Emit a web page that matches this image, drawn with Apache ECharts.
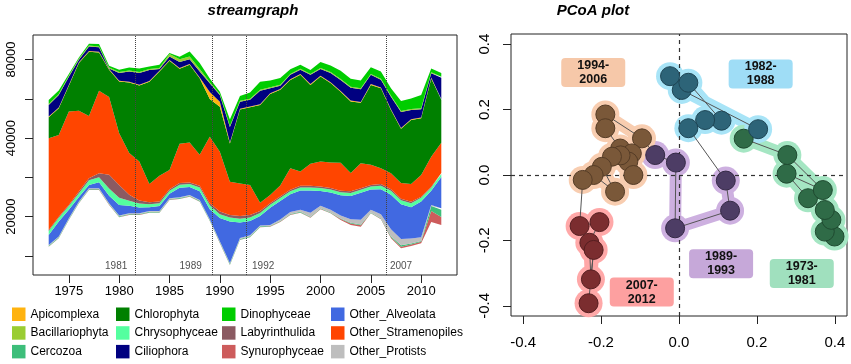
<!DOCTYPE html>
<html lang="en">
<head>
    <meta charset="UTF-8" />
    <title>streamgraph / PCoA plot</title>
    <script src="https://cdn.jsdelivr.net/npm/echarts@6/dist/echarts.min.js"></script>
</head>
<body style="margin: 0; background: #fff">
    <div id="chart" style="width: 851px; height: 364px"></div>
    <script>
        // ---- streamgraph data (1973-2012) ----
        var years = [1973, 1974, 1975, 1976, 1977, 1978, 1979, 1980, 1981, 1982,
            1983, 1984, 1985, 1986, 1987, 1988, 1989, 1990, 1991, 1992,
            1993, 1994, 1995, 1996, 1997, 1998, 1999, 2000, 2001, 2002,
            2003, 2004, 2005, 2006, 2007, 2008, 2009, 2010, 2011, 2012]

        // offset under the stream (not drawn)
        var baseline = [4700, 9000, 18300, 26800, 33600, 33600, 26000, 19700, 20900, 20900,
            22000, 22000, 28500, 29000, 30200, 27600, 17800, 6500, -4600, 8100,
            9500, 14600, 14900, 17300, 20900, 22000, 19500, 23800, 21700, 18300,
            15800, 14900, 21700, 18700, 9000, 3900, 5100, 6500, 17300, 15800]

        var synurophyceae = [200, 200, 200, 200, 200, 200, 200, 200, 200, 200,
            200, 200, 200, 200, 200, 200, 200, 200, 200, 200,
            200, 200, 200, 200, 200, 200, 200, 200, 200, 500,
            800, 800, 200, 200, 500, 800, 800, 800, 5600, 4100]
        var cercozoa = [300, 300, 300, 300, 300, 300, 300, 300, 300, 300,
            300, 300, 300, 300, 300, 300, 300, 400, 400, 400,
            400, 300, 300, 300, 300, 300, 300, 300, 300, 300,
            300, 300, 300, 300, 500, 800, 500, 300, 2500, 3600]
        var otherProtists = [400, 400, 400, 400, 400, 400, 400, 400, 400, 400,
            400, 400, 400, 400, 400, 400, 400, 400, 400, 400,
            400, 400, 400, 800, 1000, 1000, 2000, 1300, 1300, 1500,
            1800, 2500, 1300, 2000, 3600, 3100, 2500, 2000, 500, 800]
        var otherAlveolata = [5100, 7600, 4300, 2300, 1600, 3100, 3800, 5400, 3800, 2900,
            1900, 2500, 2300, 4900, 4000, 4400, 5100, 11800, 21200, 7900,
            7300, 4900, 8800, 9400, 9000, 9900, 11400, 7500, 8800, 10300,
            11900, 13700, 10400, 12800, 17600, 17800, 15900, 18100, 7300, 15900]
        var chrysophyceae = [2000, 2000, 2000, 2000, 2500, 2500, 3600, 3600, 2500, 2000,
            1500, 1500, 1500, 1500, 1500, 2000, 2000, 2000, 2000, 2000,
            1800, 1500, 1500, 1500, 1500, 1500, 1500, 1500, 1500, 1500,
            1500, 1500, 1500, 1800, 2000, 2000, 2000, 2000, 1500, 1500]
        var labyrinthulida = [500, 500, 500, 800, 1000, 2000, 7100, 6600, 3100, 1500,
            1000, 800, 800, 800, 800, 800, 1000, 1300, 1300, 1300,
            1300, 1000, 800, 800, 800, 800, 800, 800, 800, 800,
            800, 800, 800, 800, 800, 800, 800, 500, 500, 500]
        var otherStramenopiles = [46700, 41600, 47500, 41100, 31700, 42000, 39500, 26300, 21200, 19900,
            9300, 13100, 9800, 20000, 20400, 15800, 33900, 30500, 16900, 16600,
            15300, 4200, 4200, 5600, 11000, 7300, 11200, 12700, 13000, 14300,
            9400, 12700, 10200, 8100, 8100, 7900, 9000, 11000, 15300, 15400]
        var chlorophyta = [10700, 13600, 13100, 24300, 32700, 19500, 13900, 26300, 35900, 38700,
            52100, 53100, 55600, 38200, 39500, 39000, 19200, 22900, 19500, 37700,
            39500, 49700, 51400, 48700, 44900, 49200, 40200, 43300, 40400, 36100,
            36400, 30800, 40700, 40700, 32200, 27700, 32600, 28900, 39900, 21900]
        var apicomplexa = [400, 400, 400, 400, 400, 400, 400, 400, 400, 400,
            400, 400, 400, 400, 400, 400, 3600, 2500, 500, 400,
            400, 400, 400, 400, 400, 400, 400, 400, 400, 400,
            400, 400, 400, 400, 400, 400, 400, 400, 400, 400]
        var ciliophora = [5900, 6400, 4200, 1300, 2200, 2200, 300, 3900, 5200, 6000,
            5600, 900, 1700, 3100, 2500, 3000, 4400, 3400, 7900, 3500,
            3400, 6900, 2500, 1700, 2200, 2200, 4700, 3400, 4700, 5600,
            6500, 6500, 4700, 3900, 6400, 8100, 4700, 4200, 2200, 10800]
        var bacillariophyta = [500, 500, 500, 500, 500, 500, 500, 500, 500, 500,
            500, 500, 1300, 1300, 1300, 1300, 500, 500, 500, 500,
            500, 500, 500, 500, 500, 500, 500, 500, 500, 500,
            500, 500, 500, 500, 500, 500, 500, 500, 500, 500]
        var dinophyceae = [2000, 1700, 1000, 700, 900, 1200, 800, 1200, 1500, 1700,
            1200, 1700, 500, 1300, 2600, 3000, 2000, 1200, 3300, 2400,
            3200, 4100, 3400, 3400, 2400, 2000, 2000, 3100, 3400, 4200,
            4100, 3900, 3400, 3700, 3800, 5100, 5400, 6800, 2000, 1900]

        var xTicks = [1975, 1980, 1985, 1990, 1995, 2000, 2005, 2010]
        var yTickValues = [0, 20000, 40000, 60000, 80000, 100000]
        var yTickLabels = ['', '20000', '', '40000', '', '80000']

        var eventYears = [1981.6, 1989.2, 1992.6, 2006.5]
        var eventLabels = ['1981', '1989', '1992', '2007']

        // ---- PCoA data ----
        var periods = ['1973-1981', '1982-1988', '1989-1993', '1994-2006', '2007-2012']
        var pcoa1973 = [[0.399, -0.188], [0.374, -0.173], [0.391, -0.137], [0.374, -0.107], [0.331, -0.071],
            [0.276, 0.004], [0.369, -0.046], [0.278, 0.061], [0.166, 0.111]]
        var pcoa1982 = [[0.203, 0.140], [0.007, 0.260], [-0.023, 0.302], [0.024, 0.282], [0.109, 0.166],
            [0.067, 0.168], [0.024, 0.143]]
        var pcoa1989 = [[0.120, -0.017], [0.131, -0.109], [-0.010, -0.163], [-0.008, 0.038], [-0.061, 0.061]]
        var pcoa1994 = [[-0.095, 0.112], [-0.189, 0.185], [-0.189, 0.143], [-0.151, 0.081], [-0.121, 0.066],
            [-0.130, 0.041], [-0.117, 0.000], [-0.150, 0.060], [-0.172, 0.056], [-0.198, 0.025],
            [-0.164, -0.051], [-0.219, 0.000], [-0.247, -0.015]]
        var pcoa2007 = [[-0.255, -0.156], [-0.204, -0.144], [-0.230, -0.207], [-0.226, -0.319], [-0.219, -0.229],
            [-0.232, -0.392]]
        var periodLabelPos = [[0.315, -0.301], [0.2095, 0.309], [0.108, -0.271], [-0.220, 0.313], [-0.0955, -0.358]]
        var pcoaTicks = [-0.4, -0.2, 0, 0.2, 0.4]

        var font = 'Liberation Sans'

        // stream layers, bottom to top
        var layers = [
            ['Synurophyceae', synurophyceae, '#CD5C5C'],
            ['Cercozoa', cercozoa, '#3DBE7A'],
            ['Other_Protists', otherProtists, '#BEBEBE'],
            ['Other_Alveolata', otherAlveolata, '#4169E1'],
            ['Chrysophyceae', chrysophyceae, '#54FF9F'],
            ['Labyrinthulida', labyrinthulida, '#8B5A62'],
            ['Other_Stramenopiles', otherStramenopiles, '#FF4500'],
            ['Chlorophyta', chlorophyta, '#008000'],
            ['Apicomplexa', apicomplexa, '#FFB30F'],
            ['Ciliophora', ciliophora, '#000080'],
            ['Bacillariophyta', bacillariophyta, '#9ACD32'],
            ['Dinophyceae', dinophyceae, '#00CD00']
        ]

        // stream is drawn on a hidden category axis spanning 1973..2012
        function streamSeries(name, values, color, opacity) {
            return {
                type: 'line', name: name, stack: 'stream', stackStrategy: 'all',
                xAxisIndex: 2, yAxisIndex: 2, data: values,
                symbol: 'none', color: color, silent: true,
                lineStyle: { width: 0 },
                areaStyle: { color: color, opacity: opacity },
                emphasis: { disabled: true }
            }
        }

        var series = [streamSeries('baseline', baseline, '#fff', 0)]
        layers.forEach(function (l) { series.push(streamSeries(l[0], l[1], l[2], 1)) })

        // event lines and their year labels
        var eventSide = ['left', 'left', 'right', 'right']
        var eventGap = [8, 10, 6, 4]
        series.push({
            type: 'scatter', xAxisIndex: 0, yAxisIndex: 0, symbolSize: 0, silent: true, z: 4,
            data: eventYears.map(function (x, i) {
                return { value: [x, -5400], label: { position: eventSide[i], distance: eventGap[i] } }
            }),
            label: {
                show: true, fontSize: 10, color: '#222', fontFamily: font,
                formatter: function (p) { return eventLabels[p.dataIndex] }
            },
            markLine: {
                symbol: ['none', 'none'], silent: true, label: { show: false },
                lineStyle: { color: '#444', type: 'dotted', width: 1 },
                data: eventYears.map(function (x) { return { xAxis: x } })
            }
        })

        // PCoA
        var groups = [pcoa1973, pcoa1982, pcoa1989, pcoa1994, pcoa2007]
        var pointColors = ['#2F6B47', '#2D6478', '#4D3D65', '#7A5839', '#7B2D2F']
        var pointBorders = ['#1F4A30', '#1E4555', '#342945', '#553C26', '#551E20']
        var haloColors = ['#A5E6C3', '#A8E4F7', '#CDB0E0', '#F8CDB0', '#FFA8A8']
        var boxColors = ['#A0E0BE', '#9FDDF6', '#C6A8D9', '#F6C8A9', '#FDA0A0']

        groups.forEach(function (g, i) {
            series.push({
                type: 'line', xAxisIndex: 1, yAxisIndex: 1, data: g, silent: true, z: 1,
                symbol: 'circle', symbolSize: 28, showSymbol: true,
                itemStyle: { color: haloColors[i] },
                lineStyle: { color: haloColors[i], width: 12, cap: 'round', join: 'round' },
                emphasis: { disabled: true }
            })
        })

        var allPoints = [].concat(pcoa1973, pcoa1982, pcoa1989, pcoa1994, pcoa2007)
        series.push({
            type: 'line', xAxisIndex: 1, yAxisIndex: 1, data: allPoints, silent: true, z: 3,
            symbol: 'none', lineStyle: { color: '#555', width: 1 },
            markLine: {
                symbol: ['none', 'none'], silent: true, label: { show: false },
                lineStyle: { color: '#333', type: [4, 4], width: 1.2 },
                data: [{ xAxis: 0 }, { yAxis: 0 }]
            }
        })

        groups.forEach(function (g, i) {
            series.push({
                type: 'scatter', xAxisIndex: 1, yAxisIndex: 1, data: g, silent: true, z: 5,
                symbolSize: 19,
                itemStyle: { color: pointColors[i], borderColor: pointBorders[i], borderWidth: 1, opacity: 1 }
            })
        })

        // period boxes: rectangles with small rounded corners
        series.push({
            type: 'scatter', xAxisIndex: 1, yAxisIndex: 1, silent: true, z: 6,
            symbol: 'path://M4,0 H60 Q64,0 64,4 V25 Q64,29 60,29 H4 Q0,29 0,25 V4 Q0,0 4,0 Z',
            symbolSize: [64, 29], symbolKeepAspect: false,
            data: periodLabelPos.map(function (p, i) {
                return { value: p, itemStyle: { color: boxColors[i], opacity: 1 } }
            }),
            label: {
                show: true, position: 'inside', color: '#111', fontSize: 12.5, fontWeight: 'bold',
                fontFamily: font, lineHeight: 14,
                formatter: function (p) { return periods[p.dataIndex].replace('-', '-\n') }
            }
        })

        function legendCol(left, names) {
            return {
                data: names, left: left, top: 307.5, orient: 'vertical', padding: 0,
                itemWidth: 13.5, itemHeight: 13.5, itemGap: 5.2, icon: 'rect', selectedMode: false,
                textStyle: { fontSize: 12, color: '#000', fontFamily: font }
            }
        }

        var hiddenAxis = { show: false, axisLine: { show: false }, axisTick: { show: false }, axisLabel: { show: false }, splitLine: { show: false } }

        var chart = echarts.init(document.getElementById('chart'))
        var option = {
            animation: false,
            backgroundColor: '#fff',
            graphic: [
                { type: 'text', x: 253, y: 11, style: { text: 'streamgraph', align: 'center', verticalAlign: 'middle', font: 'italic bold 15px ' + font, fill: '#000' } },
                { type: 'text', x: 593, y: 11, style: { text: 'PCoA plot', align: 'center', verticalAlign: 'middle', font: 'italic bold 15px ' + font, fill: '#000' } }
            ],
            legend: [
                legendCol(12, ['Apicomplexa', 'Bacillariophyta', 'Cercozoa']),
                legendCol(116, ['Chlorophyta', 'Chrysophyceae', 'Ciliophora']),
                legendCol(222, ['Dinophyceae', 'Labyrinthulida', 'Synurophyceae']),
                legendCol(331, ['Other_Alveolata', 'Other_Stramenopiles', 'Other_Protists'])
            ],
            grid: [
                { left: 33, top: 35, width: 424, height: 240, show: true, borderColor: '#222', borderWidth: 1, backgroundColor: 'transparent', z: 5 },
                { left: 511, top: 34, width: 336, height: 282, show: true, borderColor: '#222', borderWidth: 1, backgroundColor: 'transparent' },
                // 1973 and 2012 sit 1.56 years inside the box edges
                { left: 48.7, top: 35, width: 392.6, height: 240, show: false }
            ],
            xAxis: [
                {
                    type: 'value', gridIndex: 0, min: 1971.44, max: 2013.56,
                    axisLine: { show: false, onZero: false }, splitLine: { show: false },
                    axisTick: { show: true, customValues: xTicks, length: 8, lineStyle: { color: '#222' } },
                    axisLabel: {
                        customValues: xTicks, fontSize: 13, color: '#000', fontFamily: font, margin: 10,
                        formatter: function (v) { return String(v) }
                    }
                },
                {
                    type: 'value', gridIndex: 1, min: -0.431, max: 0.431,
                    axisLine: { show: false, onZero: false }, splitLine: { show: false },
                    axisTick: { show: true, customValues: pcoaTicks, length: 8, lineStyle: { color: '#222' } },
                    axisLabel: {
                        customValues: pcoaTicks, fontSize: 15, color: '#000', fontFamily: font, margin: 19,
                        formatter: function (v) { return v.toFixed(1) }
                    }
                },
                Object.assign({ type: 'category', gridIndex: 2, data: years, boundaryGap: false }, hiddenAxis)
            ],
            yAxis: [
                {
                    type: 'value', gridIndex: 0, min: -9670, max: 112490,
                    axisLine: { show: false, onZero: false }, splitLine: { show: false },
                    axisTick: { show: true, customValues: yTickValues, length: 8, lineStyle: { color: '#222' } },
                    axisLabel: {
                        customValues: yTickValues, rotate: 90, fontSize: 13, color: '#000', fontFamily: font, margin: 15,
                        formatter: function (v) { return yTickLabels[yTickValues.indexOf(v)] }
                    }
                },
                {
                    type: 'value', gridIndex: 1, min: -0.431, max: 0.431,
                    axisLine: { show: false, onZero: false }, splitLine: { show: false },
                    axisTick: { show: true, customValues: pcoaTicks, length: 8, lineStyle: { color: '#222' } },
                    axisLabel: {
                        customValues: pcoaTicks, rotate: 90, fontSize: 15, color: '#000', fontFamily: font, margin: 19,
                        formatter: function (v) { return v.toFixed(1) }
                    }
                },
                Object.assign({ type: 'value', gridIndex: 2, min: -9670, max: 112490 }, hiddenAxis)
            ],
            series: series
        }
        chart.setOption(option)
    </script>
</body>
</html>
